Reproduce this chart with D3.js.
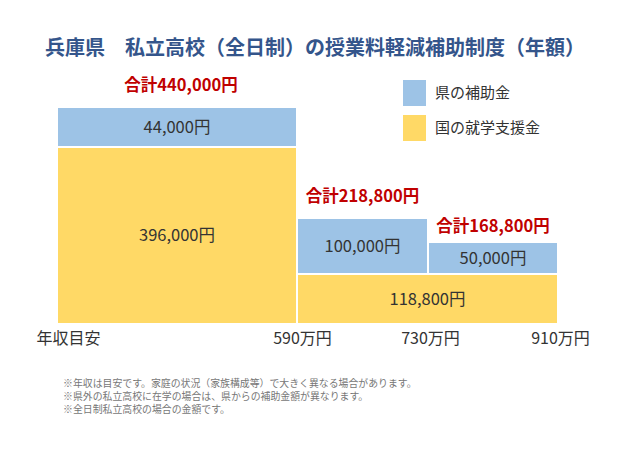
<!DOCTYPE html>
<html>
<head>
<meta charset="utf-8">
<script src="https://cdn.jsdelivr.net/npm/d3@7"></script>
<style>
  body { margin: 0; background: #fff; }
  text { font-family: "Noto Sans CJK JP", "Noto Sans", sans-serif; }
</style>
</head>
<body>
<div id="container"></div>
<script>
/* DATA */
const incomes = [0, 590, 730, 910]; // 年収目安 (万円)
const incomeLabels = ["年収目安", "590万円", "730万円", "910万円"];
const national = [396000, 118800, 118800];   // 国の就学支援金
const prefecture = [44000, 100000, 50000];   // 県の補助金
const seriesNames = ["県の補助金", "国の就学支援金"];
const notes = [
  "※年収は目安です。家庭の状況（家族構成等）で大きく異なる場合があります。",
  "※県外の私立高校に在学の場合は、県からの補助金額が異なります。",
  "※全日制私立高校の場合の金額です。"
];

/* CONSTANTS */
const width = 640, height = 467;
const blue = "#9dc3e6", yellow = "#ffd966", red = "#c00000";
const fmt = d3.format(",");

const cols = national.map((n, i) => ({
  x0: incomes[i], x1: incomes[i + 1],
  national: n, pref: prefecture[i], total: n + prefecture[i]
}));

/* SCALES */
// schematic (piecewise) scales, like the original figure
const xScale = d3.scaleLinear()
  .domain(incomes)
  .range([57, 297, 428, 558]);

const levels = Array.from(new Set([0, ...cols.flatMap(d => [d.national, d.total])])).sort(d3.ascending);
const yScale = d3.scaleLinear()
  .domain(levels)
  .range([324, 274, 242, 218, 147, 107]);

/* SVG */
const svg = d3.select("#container")
  .append("svg")
  .attr("width", width)
  .attr("height", height);

svg.append("text")
  .attr("x", 45)
  .attr("y", 55)
  .style("font-size", "20px")
  .style("font-weight", "bold")
  .style("fill", "#34558b")
  .text("兵庫県\u3000私立高校（全日制）の授業料軽減補助制度（年額）");

// national amount: neighbouring columns with the same value share one block
const segs = [];
cols.forEach((d, i) => {
  const last = segs.filter(s => s.c === yellow).pop();
  if (last && last.v === d.national && last.x1 === d.x0) last.x1 = d.x1;
  else segs.push({ x0: d.x0, x1: d.x1, lo: 0, hi: d.national, v: d.national, c: yellow });
});
cols.forEach(d => {
  segs.push({ x0: d.x0, x1: d.x1, lo: d.national, hi: d.total, v: d.pref, c: blue });
});

svg.selectAll("rect.seg")
  .data(segs)
  .join("rect")
  .attr("class", "seg")
  .attr("x", d => xScale(d.x0) + 1)
  .attr("width", d => xScale(d.x1) - xScale(d.x0) - 2)
  .attr("y", d => yScale(d.hi) + 1)
  .attr("height", d => yScale(d.lo) - yScale(d.hi) - 2)
  .style("fill", d => d.c);

svg.selectAll("text.val")
  .data(segs)
  .join("text")
  .attr("class", "val")
  .attr("x", d => (xScale(d.x0) + xScale(d.x1)) / 2)
  .attr("y", d => (yScale(d.lo) + yScale(d.hi)) / 2)
  .attr("dy", "0.35em")
  .style("text-anchor", "middle")
  .style("font-size", "16.5px")
  .style("fill", "#333")
  .text(d => fmt(d.v) + "円");

svg.selectAll("text.total")
  .data(cols)
  .join("text")
  .attr("class", "total")
  .attr("x", d => (xScale(d.x0) + xScale(d.x1)) / 2 + (d.x0 === 0 ? 4 : 0))
  .attr("y", (d, i) => yScale(d.total) - (i === 2 ? 10 : 16))
  .style("text-anchor", "middle")
  .style("font-size", "16.5px")
  .style("font-weight", "bold")
  .style("fill", red)
  .text(d => "合計" + fmt(d.total) + "円");

/* AXIS */
const xAxis = d3.axisBottom(xScale)
  .tickValues(incomes)
  .tickSize(0)
  .tickPadding(0)
  .tickFormat((d, i) => incomeLabels[i]);

const gx = svg.append("g")
  .attr("transform", "translate(0,333)")
  .call(xAxis);
gx.select(".domain").remove();
gx.selectAll("text")
  .attr("dy", "0.71em")
  .attr("dx", (d, i) => i === 0 ? 11 : (i === 1 ? 5 : 2))
  .style("font-size", "16px")
  .style("font-family", "'Noto Sans CJK JP', sans-serif")
  .style("fill", "#333");

/* LEGEND */
const legend = svg.selectAll("g.legend")
  .data(seriesNames)
  .join("g")
  .attr("class", "legend")
  .attr("transform", (d, i) => `translate(403,${80 + i * 35})`);

legend.append("rect")
  .attr("width", 23)
  .attr("height", 26)
  .style("fill", (d, i) => i === 0 ? blue : yellow);

legend.append("text")
  .attr("x", 32)
  .attr("y", 13)
  .attr("dy", "0.35em")
  .style("font-size", "15px")
  .style("fill", "#333")
  .text(d => d);

/* NOTES */
svg.selectAll("text.note")
  .data(notes)
  .join("text")
  .attr("class", "note")
  .attr("x", 63)
  .attr("y", (d, i) => 387 + i * 13)
  .style("font-size", "9.9px")
  .style("fill", "#777")
  .text(d => d);
</script>
</body>
</html>
